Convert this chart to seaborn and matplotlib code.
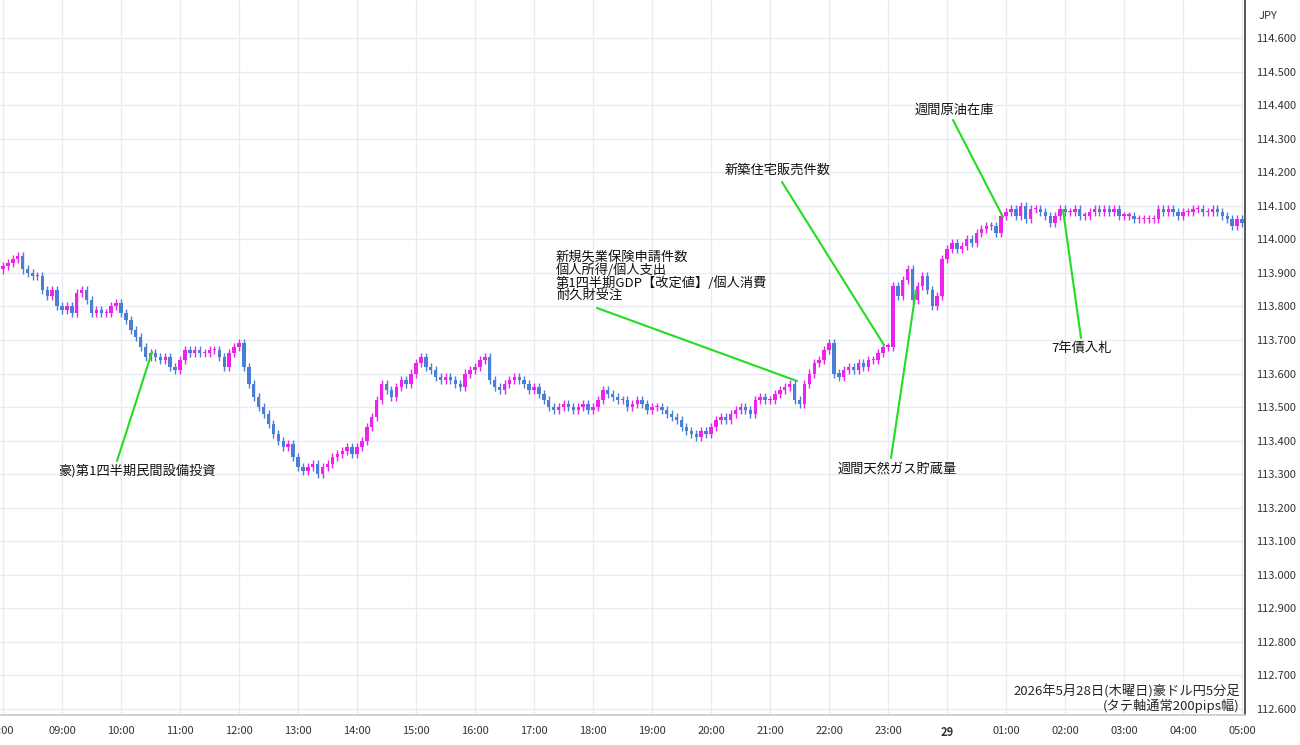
import numpy as np
import matplotlib
matplotlib.use("Agg")
import matplotlib.pyplot as plt
import seaborn as sns

# closes of 5-minute candles, one list per hour starting 08:00
h08 = [113.92, 113.93, 113.94, 113.95, 113.91, 113.90, 113.89, 113.89, 113.85, 113.83, 113.85, 113.80]
h09 = [113.79, 113.80, 113.78, 113.84, 113.85, 113.82, 113.78, 113.79, 113.78, 113.78, 113.80, 113.81]
h10 = [113.78, 113.76, 113.73, 113.71, 113.68, 113.65, 113.66, 113.65, 113.64, 113.65, 113.62, 113.61]
h11 = [113.64, 113.67, 113.66, 113.67, 113.66, 113.66, 113.67, 113.67, 113.65, 113.62, 113.66, 113.68]
h12 = [113.69, 113.62, 113.57, 113.53, 113.50, 113.48, 113.45, 113.42, 113.40, 113.38, 113.39, 113.35]
h13 = [113.32, 113.31, 113.32, 113.33, 113.30, 113.32, 113.33, 113.35, 113.36, 113.37, 113.38, 113.36]
h14 = [113.38, 113.40, 113.44, 113.47, 113.52, 113.57, 113.55, 113.53, 113.56, 113.58, 113.57, 113.60]
h15 = [113.63, 113.65, 113.62, 113.61, 113.59, 113.58, 113.59, 113.58, 113.57, 113.56, 113.60, 113.61]
h16 = [113.62, 113.64, 113.65, 113.58, 113.56, 113.55, 113.57, 113.58, 113.59, 113.58, 113.57, 113.55]
h17 = [113.56, 113.54, 113.52, 113.50, 113.49, 113.50, 113.51, 113.50, 113.49, 113.50, 113.51, 113.49]
h18 = [113.50, 113.52, 113.55, 113.54, 113.53, 113.52, 113.52, 113.50, 113.51, 113.52, 113.51, 113.49]
h19 = [113.50, 113.50, 113.49, 113.48, 113.47, 113.46, 113.44, 113.43, 113.42, 113.41, 113.43, 113.42]
h20 = [113.44, 113.46, 113.47, 113.46, 113.48, 113.49, 113.50, 113.49, 113.48, 113.52, 113.53, 113.52]
h21 = [113.52, 113.54, 113.55, 113.56, 113.57, 113.52, 113.51, 113.57, 113.60, 113.63, 113.64, 113.67]
h22 = [113.69, 113.60, 113.59, 113.61, 113.62, 113.61, 113.63, 113.62, 113.64, 113.64, 113.66, 113.68]
h23 = [113.68, 113.86, 113.83, 113.88, 113.91, 113.82, 113.86, 113.89, 113.85, 113.80, 113.83, 113.94]
h00 = [113.97, 113.99, 113.97, 113.98, 114.00, 113.99, 114.02, 114.03, 114.04, 114.04, 114.02, 114.07]
h01 = [114.08, 114.09, 114.07, 114.10, 114.06, 114.09, 114.09, 114.08, 114.07, 114.05, 114.07, 114.09]
h02 = [114.08, 114.08, 114.09, 114.07, 114.07, 114.08, 114.09, 114.08, 114.09, 114.08, 114.09, 114.07]
h03 = [114.07, 114.07, 114.06, 114.06, 114.06, 114.06, 114.06, 114.09, 114.08, 114.09, 114.08, 114.07]
h04 = [114.08, 114.08, 114.09, 114.09, 114.08, 114.08, 114.09, 114.08, 114.07, 114.06, 114.04, 114.06]
h05 = [114.05, 114.06]
first_open = 113.91

hour_labels = ["8:00", "09:00", "10:00", "11:00", "12:00", "13:00", "14:00", "15:00", "16:00",
               "17:00", "18:00", "19:00", "20:00", "21:00", "22:00", "23:00", "29", "01:00",
               "02:00", "03:00", "04:00", "05:00"]
y_ticks = [112.6 + 0.1 * k for k in range(21)]

events = ["豪)第1四半期民間設備投資",
          "新規失業保険申請件数\n個人所得/個人支出\n第1四半期GDP【改定値】/個人消費\n耐久財受注",
          "新築住宅販売件数", "週間原油在庫", "週間天然ガス貯蔵量", "7年債入札"]

sns.set_theme(style="white")
plt.rcParams["font.family"] = ["Noto Sans CJK JP", "DejaVu Sans"]

W, H = 1300, 745
fig = plt.figure(figsize=(13, 7.45), dpi=100)
ax = fig.add_axes([0, 1 - 715 / H, 1245 / W, 715 / H])

closes = np.array(h08 + h09 + h10 + h11 + h12 + h13 + h14 + h15 + h16 + h17 + h18 +
                  h19 + h20 + h21 + h22 + h23 + h00 + h01 + h02 + h03 + h04 + h05)
opens = np.concatenate([[first_open], closes[:-1]])
idx = np.arange(len(closes))
up = closes >= opens
colors = np.where(up, "#ee22ee", "#4a7fd6")
hi = np.maximum(opens, closes) + 0.012
lo = np.minimum(opens, closes) - 0.012
body = np.maximum(np.abs(closes - opens), 0.004)
ax.vlines(idx, lo, hi, colors=colors, lw=1)
ax.bar(idx, body, bottom=np.minimum(opens, closes), width=0.7, color=colors, lw=0)

px_per = 59 / 12
ax.set_xlim(-3 / px_per, (1245 - 3) / px_per)
ax.set_ylim(112.6 - 6 / 335.5, 114.6 + 38 / 335.5)
ax.set_xticks(np.arange(len(hour_labels)) * 12)
ax.set_xticklabels(hour_labels, fontsize=8, color="#333333")
for t in ax.get_xticklabels():
    if t.get_text() == "29":
        t.set_fontweight("bold")
ax.set_yticks(y_ticks)
ax.set_yticklabels([f"{v:.3f}" for v in y_ticks], fontsize=8, color="#333333")
ax.yaxis.tick_right()
ax.tick_params(axis="both", length=0, pad=8)
ax.grid(True, color="#e6ecf2", lw=1)
for s in ["top", "left"]:
    ax.spines[s].set_visible(False)
ax.spines["right"].set_color("#444444")
ax.spines["bottom"].set_color("#cccccc")
fig.text(1268 / W, 1 - 16 / H, "JPY", fontsize=8, ha="center", va="center", color="#333333")


def fp(x, y):
    return (x / W, 1 - y / H)


notes = [
    (events[0], (137, 471), (117, 461), (152, 352), "center"),
    (events[1], (556, 277), (597, 308), (797, 381), "left"),
    (events[2], (778, 170), (782, 182), (884, 345), "center"),
    (events[3], (954, 110), (953, 120), (1003, 217), "center"),
    (events[4], (897, 470), (891, 458), (916, 290), "center"),
    (events[5], (1081, 348), (1081, 338), (1063, 210), "center"),
]
for text, tpos, p0, p1, ha in notes:
    fig.add_artist(plt.Line2D([p0[0] / W, p1[0] / W], [1 - p0[1] / H, 1 - p1[1] / H],
                              color="#22dd22", lw=1.5))
    fig.text(*fp(*tpos), text, fontsize=9.5, ha=ha, va="center", linespacing=0.95,
             color="#111111")

fig.text(*fp(1240, 691), "2026年5月28日(木曜日)豪ドル円5分足", fontsize=9.5, ha="right", va="center")
fig.text(*fp(1240, 706), "(タテ軸通常200pips幅)", fontsize=9.5, ha="right", va="center")

fig.savefig("out.png", dpi=100)
